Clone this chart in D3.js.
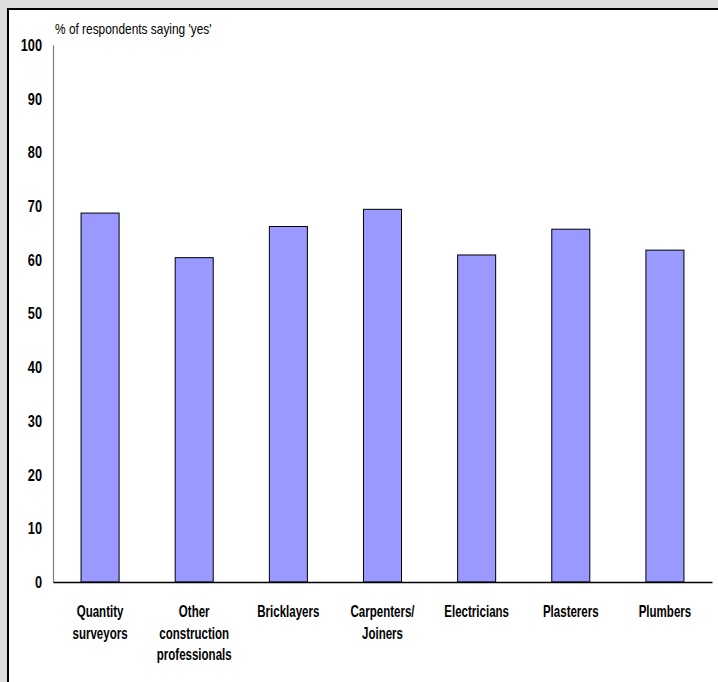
<!DOCTYPE html>
<html>
<head>
<meta charset="utf-8">
<script src="https://cdn.jsdelivr.net/npm/d3@7"></script>
<style>
  html, body { margin: 0; padding: 0; background: #dedede; }
  svg { display: block; }
</style>
</head>
<body>
<svg id="chart" width="718" height="682"></svg>
<script>
// Share of respondents answering 'yes', by trade
const categories = [
  "Quantity surveyors",
  "Other construction professionals",
  "Bricklayers",
  "Carpenters/ Joiners",
  "Electricians",
  "Plasterers",
  "Plumbers"
];
// label line breaks for each category
const categoryLines = [
  ["Quantity", "surveyors"],
  ["Other", "construction", "professionals"],
  ["Bricklayers"],
  ["Carpenters/", "Joiners"],
  ["Electricians"],
  ["Plasterers"],
  ["Plumbers"]
];
const values = [68.7, 60.4, 66.2, 69.4, 60.9, 65.7, 61.8];
const yTicks = [0, 10, 20, 30, 40, 50, 60, 70, 80, 90, 100];
const yTitle = "% of respondents saying 'yes'";

const svg = d3.select("#chart");
const font = "'Liberation Sans', Arial, sans-serif";

// white panel with a black frame
svg.append("rect")
  .attr("x", 8).attr("y", 9)
  .attr("width", 760).attr("height", 720)
  .attr("fill", "#fff")
  .attr("stroke", "#000")
  .attr("stroke-width", 2);

const x = d3.scaleBand()
  .domain(categories)
  .range([53, 712])
  .paddingInner(0.596)
  .paddingOuter(0.298);

const y = d3.scaleLinear().domain([0, 100]).range([582, 45]);

// bars
svg.append("g").selectAll("rect")
  .data(values)
  .join("rect")
  .attr("x", (d, i) => x(categories[i]))
  .attr("y", d => y(d))
  .attr("width", x.bandwidth())
  .attr("height", d => y(0) - y(d))
  .attr("fill", "#9999ff")
  .attr("stroke", "#000")
  .attr("stroke-width", 1);

// y axis (condensed bold labels)
const tickSx = 0.75, tickPad = 11;
const yAxis = svg.append("g")
  .attr("transform", "translate(53,0)")
  .call(d3.axisLeft(y).tickValues(yTicks).tickSize(0).tickPadding(tickPad).tickFormat(d3.format("d")));
yAxis.select(".domain").attr("stroke", "#808080").attr("stroke-width", 1.2);
yAxis.selectAll("text")
  .attr("fill", "#000")
  .attr("x", -tickPad / tickSx)
  .attr("transform", `scale(${tickSx},1)`)
  .style("font-family", font)
  .style("font-weight", "bold")
  .style("font-size", "17px");

// x axis
const xAxis = svg.append("g")
  .attr("transform", "translate(0,582)")
  .call(d3.axisBottom(x).tickSize(0).tickSizeOuter(0).tickFormat(""));
xAxis.select(".domain").attr("stroke", "#000").attr("stroke-width", 1.5);

// category labels, condensed horizontally
const labelSx = 0.72;
const labels = svg.append("g")
  .style("font-family", font)
  .style("font-weight", "bold")
  .style("font-size", "16px")
  .attr("text-anchor", "middle");
categories.forEach((c, i) => {
  const t = labels.append("text")
    .attr("transform", `translate(${x(c) + x.bandwidth() / 2},617) scale(${labelSx},1)`);
  categoryLines[i].forEach((line, j) => {
    t.append("tspan")
      .attr("x", 0)
      .attr("dy", j === 0 ? 0 : 21.7)
      .text(line);
  });
});

// axis title
svg.append("text")
  .attr("transform", "translate(55,34) scale(0.85,1)")
  .style("font-family", font)
  .style("font-size", "14px")
  .text(yTitle);
</script>
</body>
</html>
